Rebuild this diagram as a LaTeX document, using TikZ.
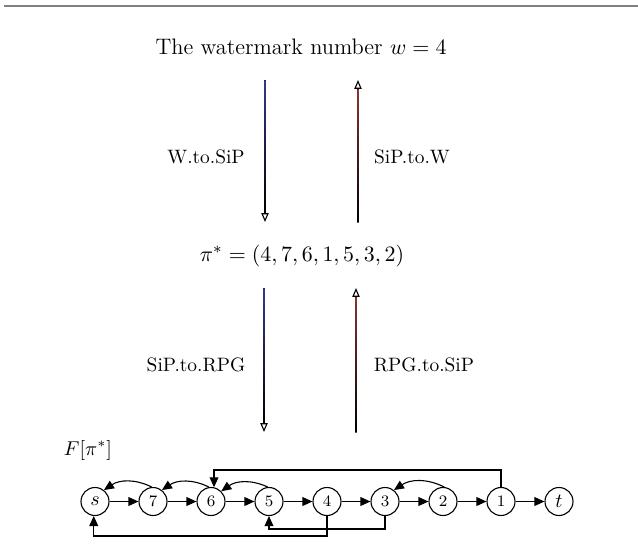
\documentclass[tikz,border=0pt]{standalone}
\usetikzlibrary{arrows.meta,calc}
\definecolor{downcol}{RGB}{55,55,140}
\definecolor{upcol}{RGB}{140,50,50}
\begin{document}
\begin{tikzpicture}[x=0.5pt,y=-0.5pt,
  vert/.style={circle,draw,line width=0.55pt,minimum size=14pt,inner sep=0pt},
  num/.style={vert,font=\footnotesize},
  edge/.style={-{Triangle[length=5pt,width=4.4pt]},line width=0.55pt},
  flow/.style={-{Triangle[open,length=4.4pt,width=3.6pt]},line width=0.55pt},
  lab/.style={font=\fontsize{9.7}{11}\selectfont},
  big/.style={font=\fontsize{11.2}{13}\selectfont},
]
\useasboundingbox (0,0) rectangle (638,553);
\draw[gray,line width=0.8pt] (4,6) -- (638,6);

% the two levels of the encoding chain
\node[big] (w) at (301,47) {The watermark number $w=4$};
\node[big] (pi) at (302,256) {$\pi^*=(4,7,6,1,5,3,2)$};

% arrow end points
\coordinate (d1a) at (265,80);  \coordinate (d1b) at (265,222);
\coordinate (u1a) at (358,222); \coordinate (u1b) at (358,80);
\coordinate (d2a) at (264,288); \coordinate (d2b) at (264,432);
\coordinate (u2a) at (356,432); \coordinate (u2b) at (356,288);

% shafts shaded from colour to black, heads drawn on top
\draw[flow] (d1a) -- (d1b);
\shade[top color=downcol,bottom color=black] ($(d1a)+(-0.65,0)$) rectangle ($(d1b)+(0.65,-9)$);
\draw[flow] (u1a) -- (u1b);
\shade[top color=upcol,bottom color=black] ($(u1b)+(-0.65,9)$) rectangle ($(u1a)+(0.65,0)$);
\draw[flow] (d2a) -- (d2b);
\shade[top color=downcol,bottom color=black] ($(d2a)+(-0.65,0)$) rectangle ($(d2b)+(0.65,-9)$);
\draw[flow] (u2a) -- (u2b);
\shade[top color=upcol,bottom color=black] ($(u2b)+(-0.65,9)$) rectangle ($(u2a)+(0.65,0)$);

\node[lab] (l1) at (206,157) {W.to.SiP};
\node[lab] (l2) at (412,157) {SiP.to.W};
\node[lab] (l3) at (196,365) {SiP.to.RPG};
\node[lab] (l4) at (424,365) {RPG.to.SiP};

% the reducible permutation graph
\node[lab] (F) at (88,450) {$F[\pi^*]$};
\node[vert] (s) at (95,501.5) {$s$};
\node[num] (n7) at (153,501.5) {7};
\node[num] (n6) at (211,501.5) {6};
\node[num] (n5) at (269,501.5) {5};
\node[num] (n4) at (327,501.5) {4};
\node[num] (n3) at (385,501.5) {3};
\node[num] (n2) at (443,501.5) {2};
\node[num] (n1) at (501,501.5) {1};
\node[vert] (t) at (559,501.5) {$t$};

\draw[edge] (s) -- (n7);
\draw[edge] (n7) -- (n6);
\draw[edge] (n6) -- (n5);
\draw[edge] (n5) -- (n4);
\draw[edge] (n4) -- (n3);
\draw[edge] (n3) -- (n2);
\draw[edge] (n2) -- (n1);
\draw[edge] (n1) -- (t);

\draw[edge] (n7.95) to[bend right=30] (s.52);
\draw[edge] (n6.98) to[bend right=30] (n7.52);
\draw[edge] (n5.95) to[bend right=30] (n6.45);
\draw[edge] (n2.85) to[bend right=30] (n3.52);

\draw[edge] (n1.north) -- (n1.north |- 0,470) -| (n6.78);
\draw[edge] (n4.south) -- (n4.south |- 0,536) -| (s.265);
\draw[edge] (n3.south) -- (n3.south |- 0,529) -| (n5.south);
\end{tikzpicture}
\end{document}
